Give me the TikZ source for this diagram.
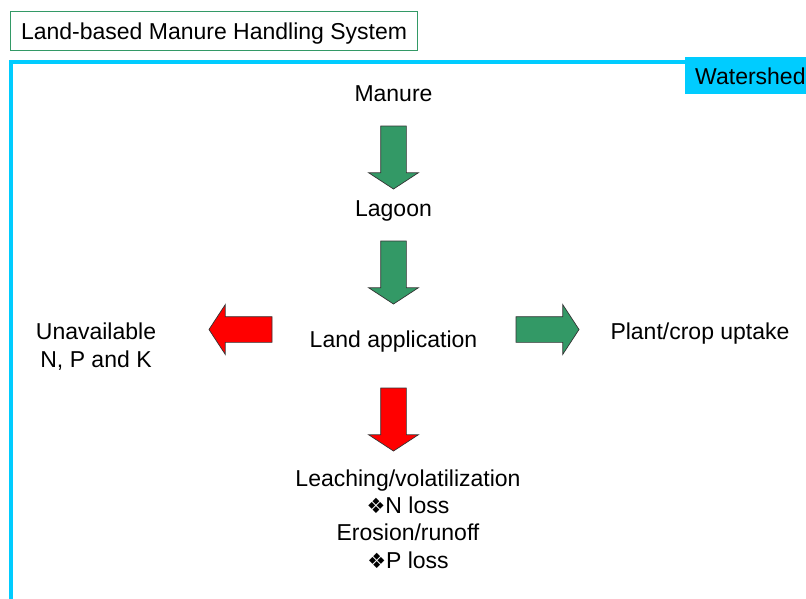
\documentclass[tikz,border=0pt]{standalone}
\usepackage{fontspec}
\setmainfont{Liberation Sans}
\newfontfamily\symfont{DejaVu Sans}
\usetikzlibrary{shapes.arrows}
\definecolor{arrgreen}{HTML}{339966}
\definecolor{arrred}{HTML}{FF0000}
\definecolor{shedcyan}{HTML}{00CCFF}
\newcommand{\bul}{{\symfont\fontsize{21}{20}\selectfont ❖}}

\begin{document}
\begin{tikzpicture}[x=1pt,y=-1pt,
        blockarrow/.style = {single arrow, draw=black!80, line width=0.7pt,
            minimum height=63pt, minimum width=49pt, inner xsep=0pt,
            inner ysep=12.5pt, outer sep=0pt, single arrow head extend=12pt,
            single arrow tip angle=113.7, anchor=tail},
        lbl/.style = {font=\fontsize{23}{27.3}\selectfont, inner sep=0pt,
            anchor=base, align=center}]
                \useasboundingbox (0,0) rectangle (806,598);
                \draw[shedcyan, line width=4pt] (10.5,640) |- (840,61.5);

                \node[draw=arrgreen, line width=1.2pt, anchor=north west,
                    minimum width=407pt, minimum height=39pt, inner sep=0pt,
                    text height=17pt, text depth=0pt,
                    font=\fontsize{23}{27.3}\selectfont]
                    (title) at (10,11) {Land-based Manure Handling System};
                \node[fill=shedcyan, anchor=north west, minimum height=37pt,
                    inner xsep=10pt, inner ysep=0pt, text height=17pt,
                    text depth=0pt, font=\fontsize{23}{27.3}\selectfont]
                    (shed) at (685,57) {Watershed};

                \node[lbl] (manure)  at (393.5,101) {Manure};
                \node[lbl] (lagoon)  at (393.5,216) {Lagoon};
                \node[lbl] (landapp) at (393.5,347) {Land application};
                \node[lbl] (unavail) at (96,367) {Unavailable\\N, P and K};
                \node[lbl] (uptake)  at (700,339) {Plant/crop uptake};
                \node[lbl] (losses)  at (408,568)
                    {Leaching/volatilization\\\bul N loss\\Erosion/runoff\\\bul P loss};

                \node[blockarrow, fill=arrgreen, rotate=-90] (toLagoon) at (393.5,126) {};
                \node[blockarrow, fill=arrgreen, rotate=-90] (toLand)   at (393.5,241) {};
                \node[blockarrow, fill=arrred,   rotate=-90] (toLoss)   at (393.5,388) {};
                \node[blockarrow, fill=arrred,   rotate=180] (toUnav)   at (272,329.5) {};
                \node[blockarrow, fill=arrgreen]             (toCrop)   at (516,329.5) {};
            \end{tikzpicture}
\end{document}
